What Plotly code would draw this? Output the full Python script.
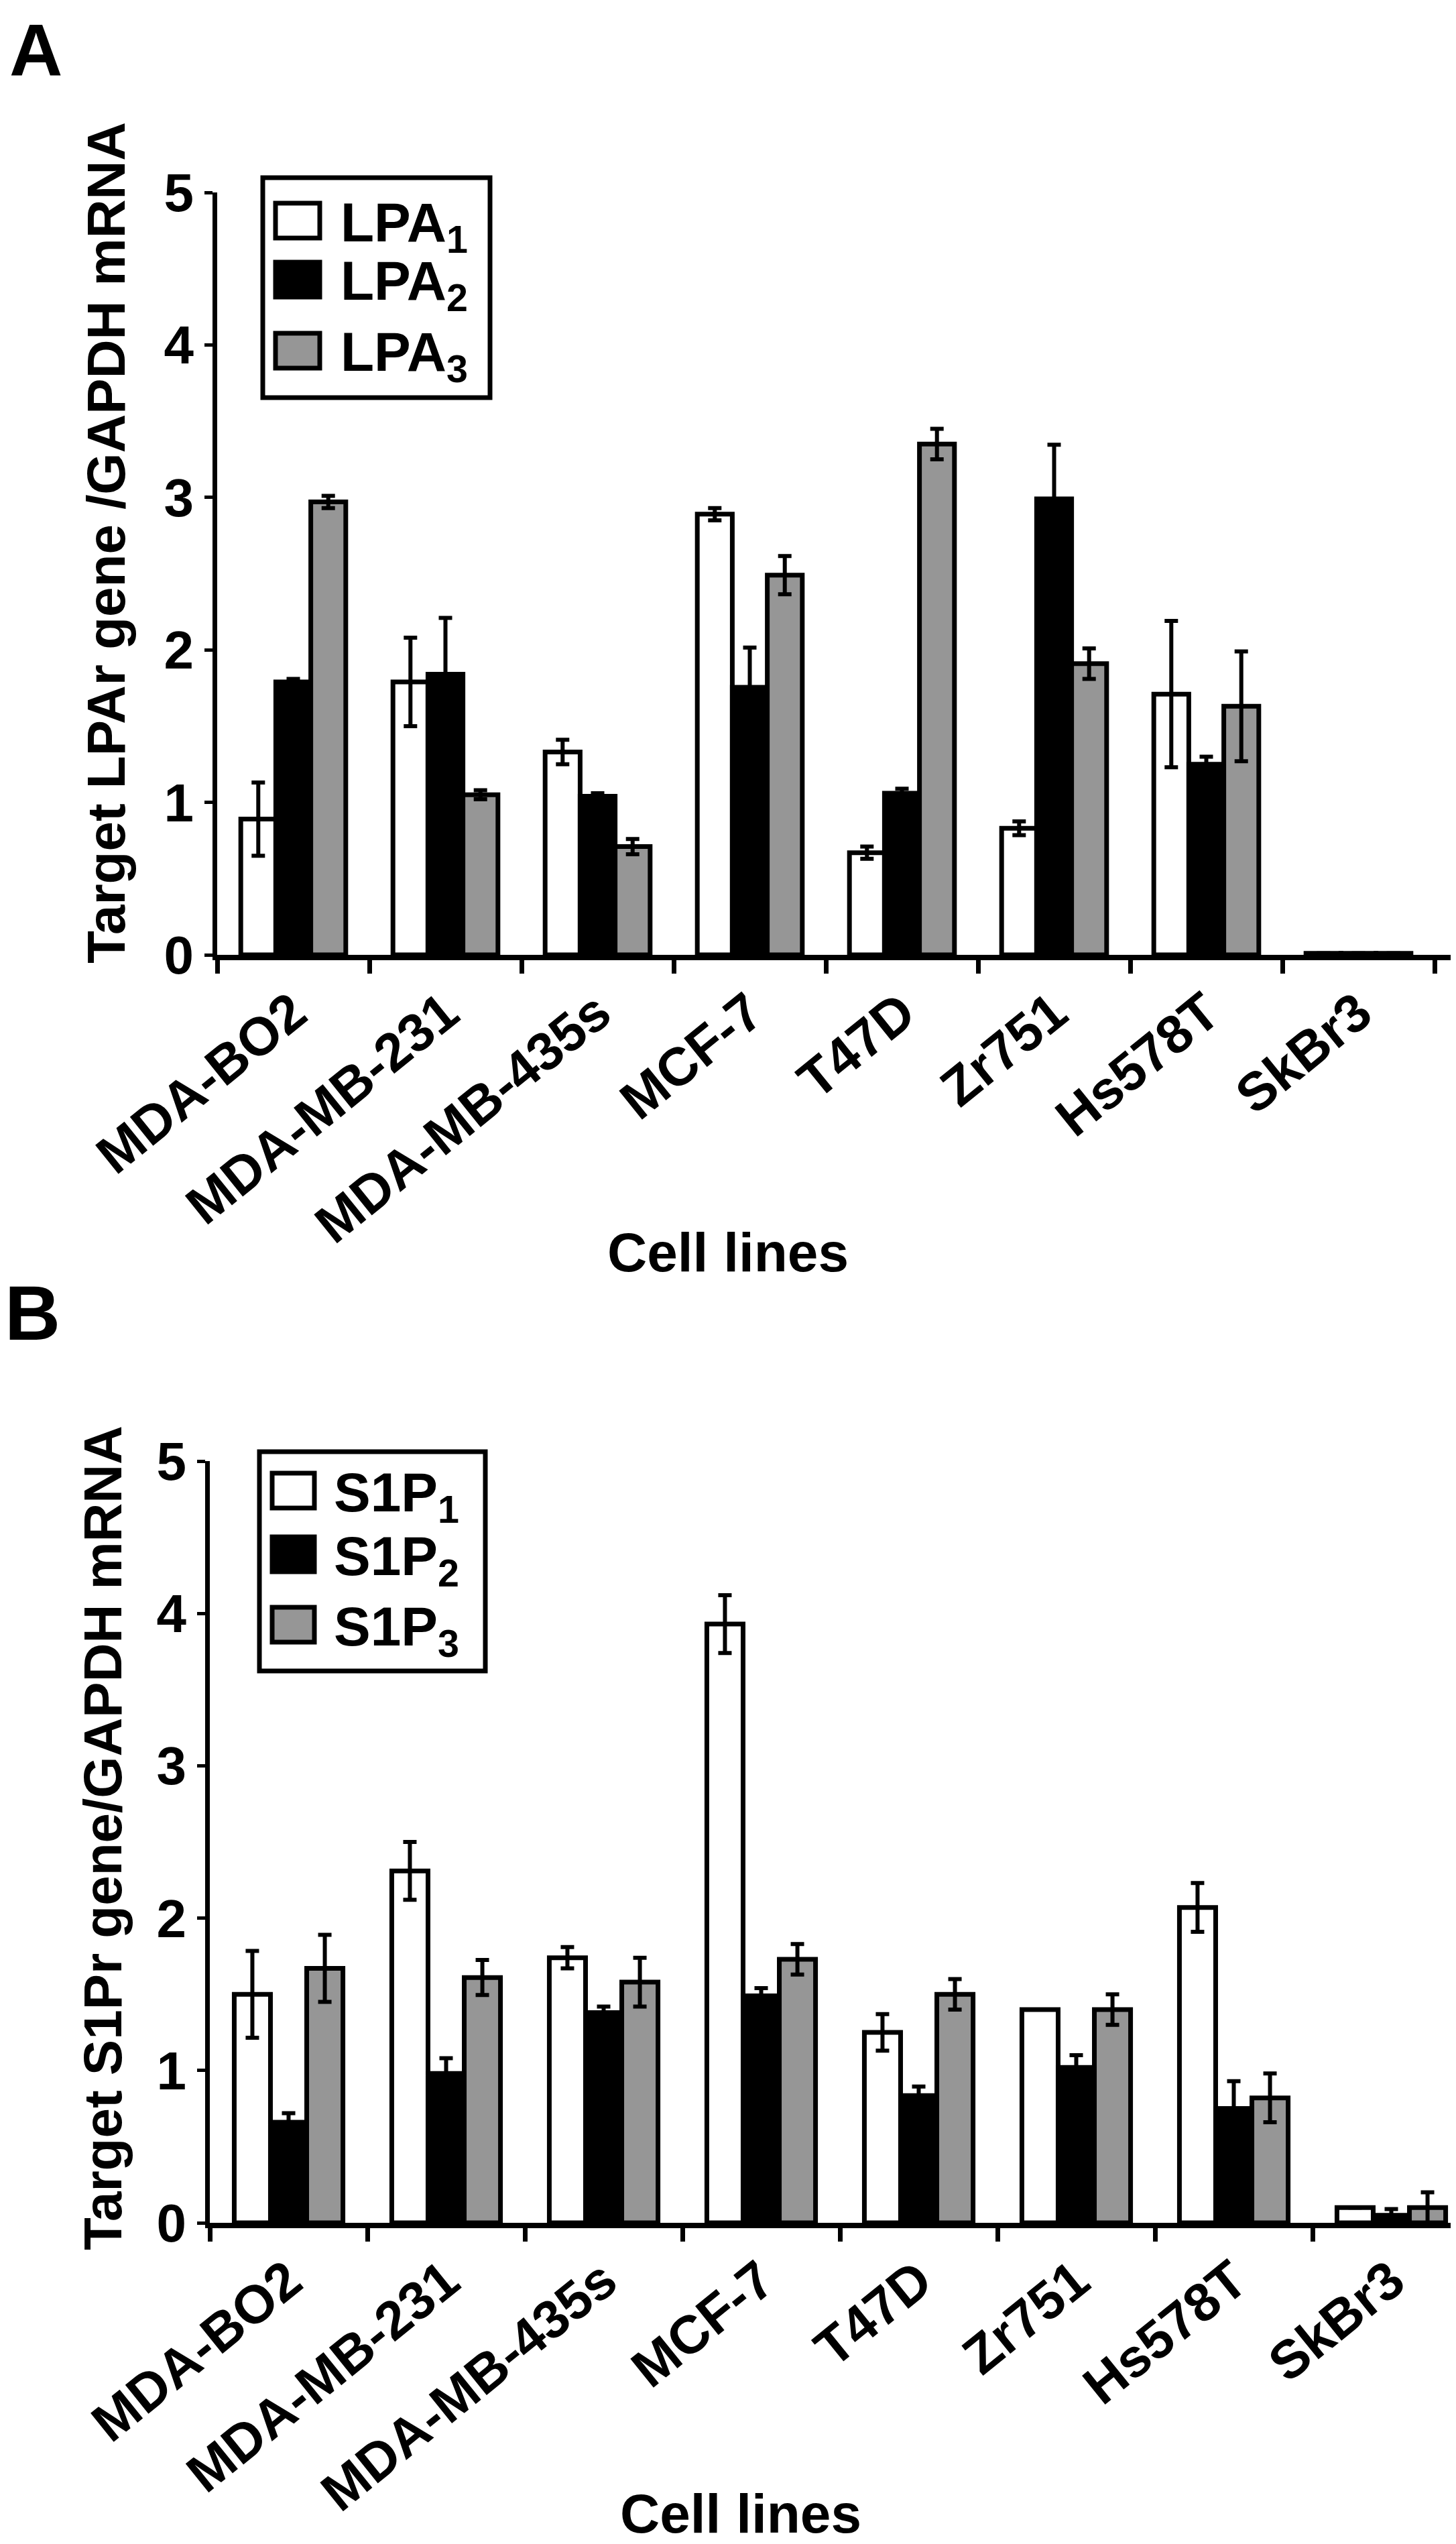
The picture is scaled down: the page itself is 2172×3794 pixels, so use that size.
import plotly.graph_objects as go

# ---------------- data ----------------
cells = ["MDA-BO2", "MDA-MB-231", "MDA-MB-435s", "MCF-7", "T47D", "Zr751", "Hs578T", "SkBr3"]

lpa1 = [0.89, 1.79, 1.33, 2.89, 0.67, 0.83, 1.71, 0.01]
lpa1_err = [0.24, 0.29, 0.08, 0.04, 0.04, 0.045, 0.48, 0.0]
lpa2 = [1.79, 1.84, 1.04, 1.755, 1.06, 2.99, 1.25, 0.01]
lpa2_err = [0.02, 0.37, 0.02, 0.26, 0.03, 0.355, 0.05, 0.0]
lpa3 = [2.97, 1.05, 0.71, 2.49, 3.35, 1.91, 1.63, 0.01]
lpa3_err = [0.04, 0.03, 0.05, 0.125, 0.10, 0.10, 0.36, 0.0]

s1p1 = [1.50, 2.31, 1.74, 3.93, 1.25, 1.40, 2.07, 0.10]
s1p1_err = [0.285, 0.19, 0.07, 0.19, 0.12, 0.0, 0.16, 0.0]
s1p2 = [0.66, 0.98, 1.38, 1.49, 0.835, 1.02, 0.75, 0.05]
s1p2_err = [0.06, 0.10, 0.04, 0.05, 0.06, 0.08, 0.18, 0.04]
s1p3 = [1.67, 1.61, 1.58, 1.73, 1.50, 1.40, 0.82, 0.10]
s1p3_err = [0.22, 0.115, 0.16, 0.10, 0.10, 0.10, 0.16, 0.10]

names_a = ["LPA<sub>1</sub>", "LPA<sub>2</sub>", "LPA<sub>3</sub>"]
names_b = ["S1P<sub>1</sub>", "S1P<sub>2</sub>", "S1P<sub>3</sub>"]
y_ticks = [0, 1, 2, 3, 4, 5]

# ---------------- styling ----------------
W, H = 2172, 3794
FONT = "Liberation Sans, Arial, Helvetica, sans-serif"
fills = ["white", "black", "#969696"]
LW = 7


def xp(px):
    return px / W


def yp(py):
    return 1 - py / H


fig = go.Figure()

panels = [
    (lpa1, lpa1_err, lpa2, lpa2_err, lpa3, lpa3_err, names_a, "x", "y"),
    (s1p1, s1p1_err, s1p2, s1p2_err, s1p3, s1p3_err, names_b, "x2", "y2"),
]
for v1, e1, v2, e2, v3, e3, nms, xa, ya in panels:
    for vals, errs, nm, col in zip([v1, v2, v3], [e1, e2, e3], nms, fills):
        fig.add_trace(go.Bar(
            x=cells, y=vals, name=nm, xaxis=xa, yaxis=ya, showlegend=False,
            marker=dict(color=col, line=dict(color="black", width=LW)),
            error_y=dict(type="data", array=errs, visible=True,
                         color="black", thickness=6, width=10),
        ))

axis_common = dict(showgrid=False, zeroline=False, showline=True, linecolor="black",
                   ticks="outside", tickcolor="black", automargin=False)
tickfont = dict(family=FONT, size=80, color="black", weight="bold")

fig.update_layout(
    template="none",
    width=W, height=H, margin=dict(l=0, r=0, t=0, b=0, pad=0), autosize=False,
    paper_bgcolor="white", plot_bgcolor="white", showlegend=False,
    barmode="group", bargap=0.31, bargroupgap=0,
    xaxis=dict(domain=[xp(316), xp(2165)], range=[-0.5, -0.5 + (2165 - 316) / 227],
               anchor="y", type="category", tickson="boundaries", linewidth=8,
               ticklen=20, tickwidth=7, tickangle=-39, tickfont=tickfont, **axis_common),
    yaxis=dict(domain=[yp(1416), yp(279)], range=[0, 5], anchor="x",
               tickvals=y_ticks, linewidth=7, ticklen=12, tickwidth=5,
               tickfont=tickfont, **axis_common),
    xaxis2=dict(domain=[xp(305), xp(2165)], range=[-0.5, -0.5 + (2165 - 305) / 235],
                anchor="y2", type="category", tickson="boundaries", linewidth=8,
                ticklen=20, tickwidth=7, tickangle=-39, tickfont=tickfont, **axis_common),
    yaxis2=dict(domain=[yp(3307), yp(2171)], range=[0, 5], anchor="x2",
                tickvals=y_ticks, linewidth=7, ticklen=12, tickwidth=5,
                tickfont=tickfont, **axis_common),
)

annotations = []
shapes = []


def text(x, y, s, size, angle=0, xanchor="center", yanchor="middle"):
    annotations.append(dict(x=xp(x), y=yp(y), xref="paper", yref="paper", text=s,
                            showarrow=False, textangle=angle, xanchor=xanchor,
                            yanchor=yanchor,
                            font=dict(family=FONT, size=size, color="black", weight="bold")))


# panel letters
text(4, 2, "A", 110, xanchor="left", yanchor="top")
text(40, 1950, "B", 115)

# axis titles
text(150, 802, "Target LPAr gene /GAPDH mRNA", 80, angle=-90)
text(145, 2733, "Target S1Pr gene/GAPDH mRNA", 80, angle=-90)
text(1078, 1860, "Cell lines", 82)
text(1097, 3740, "Cell lines", 82)

# manual legends
legends = [
    ((384, 723, 257, 585), [321, 409, 515], (403, 469), 498, names_a),
    ((379, 716, 2157, 2484), [2215, 2310, 2415], (398, 461), 488, names_b),
]
for (bx0, bx1, by0, by1), cys, (sx0, sx1), tx, nms in legends:
    shapes.append(dict(type="rect", xref="paper", yref="paper",
                       x0=xp(bx0), x1=xp(bx1), y0=yp(by1), y1=yp(by0),
                       line=dict(color="black", width=7), fillcolor="rgba(0,0,0,0)"))
    for cy, nm, col in zip(cys, nms, fills):
        shapes.append(dict(type="rect", xref="paper", yref="paper",
                           x0=xp(sx0), x1=xp(sx1), y0=yp(cy + 26), y1=yp(cy - 26),
                           line=dict(color="black", width=7), fillcolor=col))
        text(tx, cy + 8, nm, 82, xanchor="left")

fig.update_layout(annotations=annotations, shapes=shapes)

fig.write_html("out.html")
